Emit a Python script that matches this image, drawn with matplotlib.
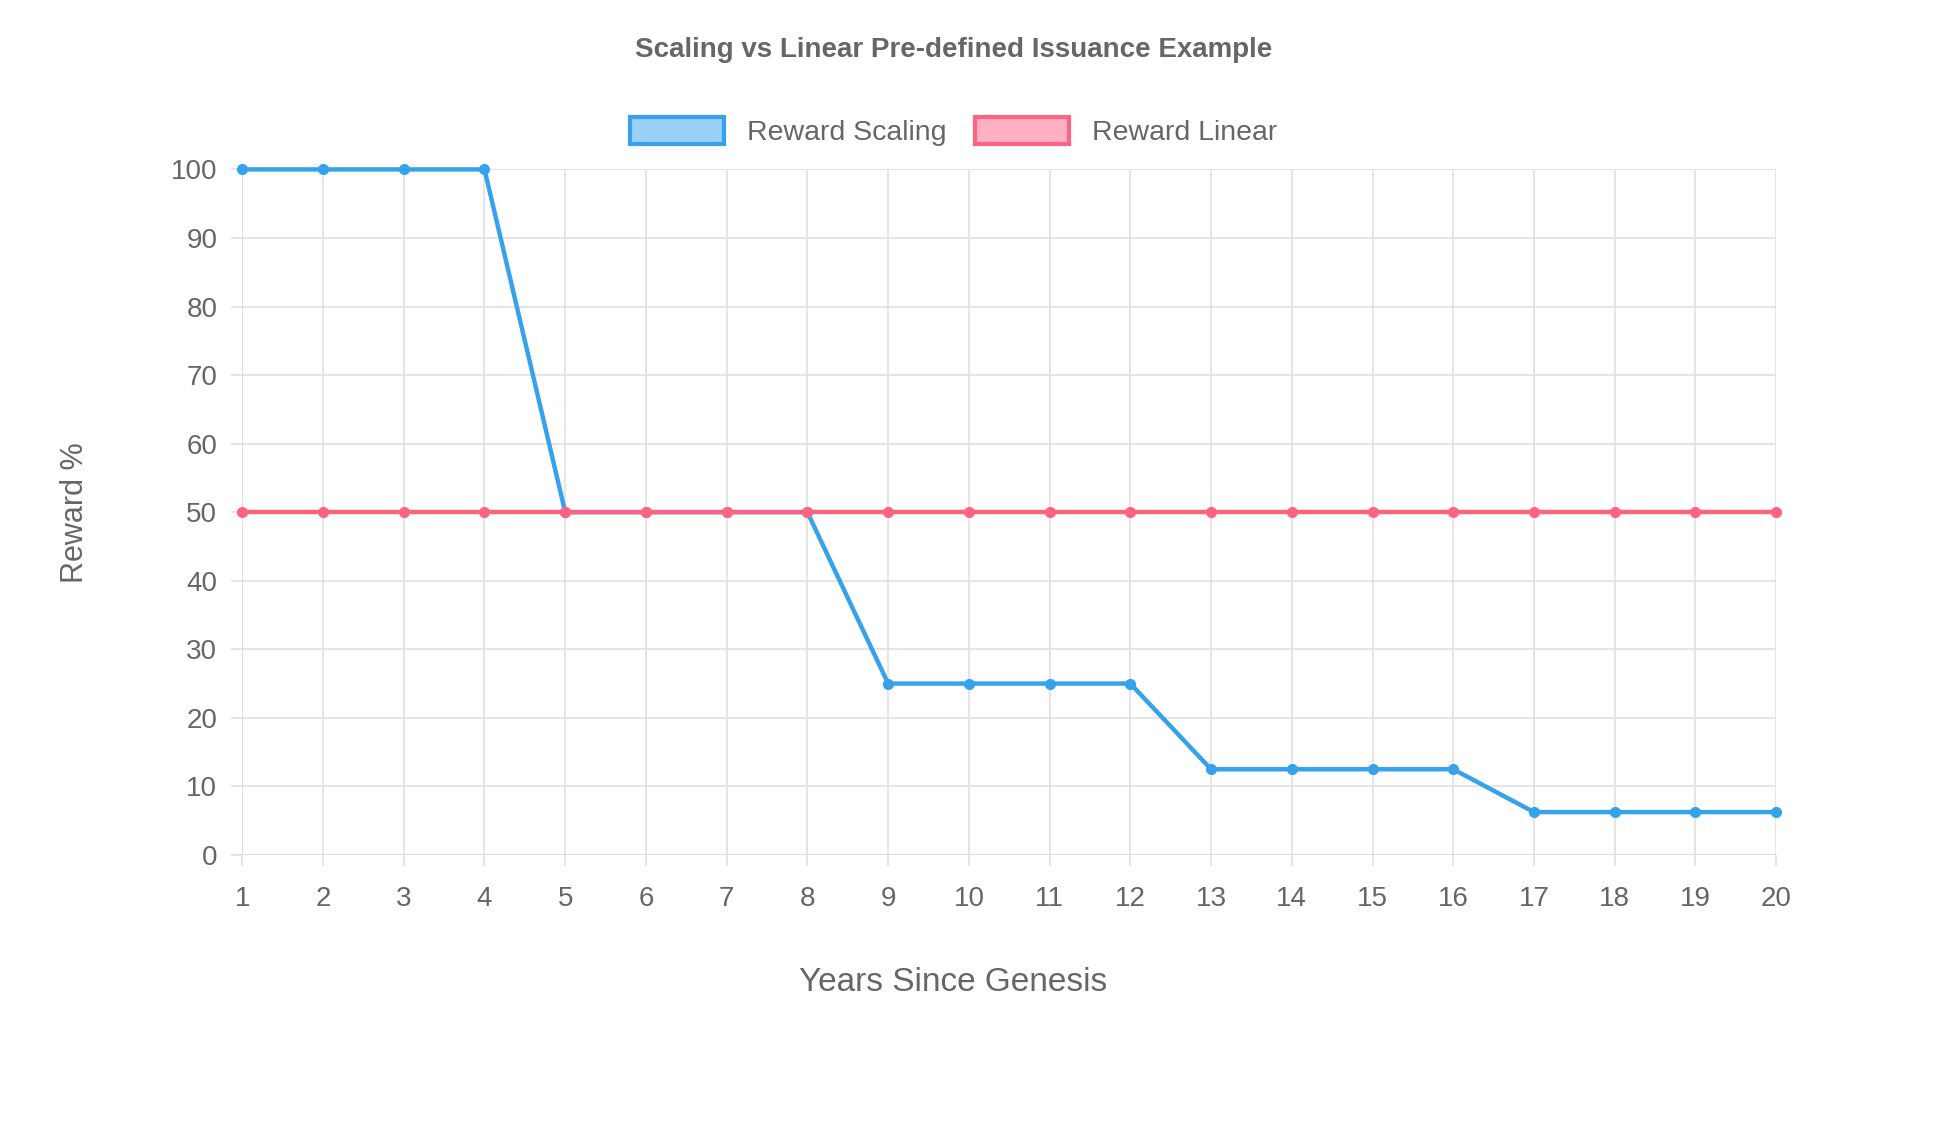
import matplotlib
matplotlib.use("Agg")
import matplotlib.pyplot as plt
from matplotlib.patches import Patch

years = list(range(1, 21))
reward_scaling = [100, 100, 100, 100, 50, 50, 50, 50, 25, 25, 25, 25,
                  12.5, 12.5, 12.5, 12.5, 6.25, 6.25, 6.25, 6.25]
reward_linear = [50] * 20
yticks = list(range(0, 101, 10))

blue = "#36a2eb"
pink = "#ff6384"
grey = "#666666"

plt.rcParams["font.family"] = "Liberation Sans"
fig = plt.figure(figsize=(19.54, 11.22), dpi=100)
ax = fig.add_axes([0.124, 0.238, 0.785, 0.611])

ax.plot(years, reward_scaling, color=blue, lw=3.2, marker="o", ms=7, zorder=3, clip_on=False)
ax.plot(years, reward_linear, color=pink, lw=3.2, marker="o", ms=7, zorder=3, clip_on=False)

ax.set_xlim(1, 20)
ax.set_ylim(0, 100)
ax.set_xticks(years)
ax.set_yticks(yticks)
ax.grid(True, color="#e0e0e0", lw=1.2)
for s in ax.spines.values():
    s.set_visible(False)
ax.axhline(0, color="#d0d0d0", lw=1.5, zorder=1)
ax.axvline(1, color="#d0d0d0", lw=1.5, zorder=1)
ax.tick_params(colors=grey, labelsize=20, length=8, width=1.2, pad=10)
ax.tick_params(axis="x", pad=14)
ax.tick_params(axis="both", color="#e0e0e0")

fig.text(0.488, 0.124, "Years Since Genesis", ha="center", va="center", fontsize=24, color=grey)
ax.set_ylabel("Reward %", fontsize=22, color=grey, labelpad=58)

fig.text(0.488, 0.955, "Scaling vs Linear Pre-defined Issuance Example",
         ha="center", va="center", fontsize=20, fontweight="bold", color=grey)

handles = [Patch(facecolor="#9ad0f5", edgecolor=blue, lw=3, label="Reward Scaling"),
           Patch(facecolor="#ffb1c1", edgecolor=pink, lw=3, label="Reward Linear")]
fig.legend(handles=handles, loc="center", bbox_to_anchor=(0.488, 0.883), ncol=2,
           frameon=False, fontsize=20.5, handlelength=3.3, handleheight=1.1,
           columnspacing=1.0, labelcolor=grey)

fig.savefig("out.png", dpi=100, facecolor="white")
